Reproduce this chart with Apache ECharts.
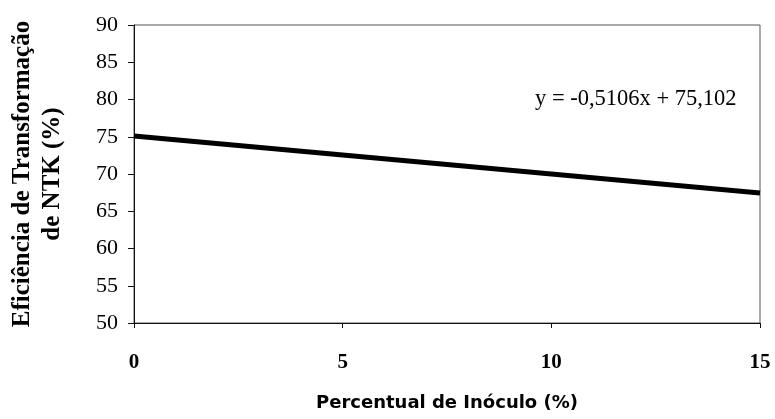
<!DOCTYPE html>
<html>
<head>
<meta charset="utf-8">
<script src="https://cdn.jsdelivr.net/npm/echarts@6/dist/echarts.min.js"></script>
<style>
  html, body { margin: 0; padding: 0; background: #fff; }
  #chart { width: 775px; height: 419px; }
</style>
</head>
<body>
<div id="chart"></div>
<script>
// Trend line of NTK transformation efficiency vs. inoculum share
const inoculoPct = [0, 15];
const eficiencia = [75.10, 67.44];
const equationText = 'y = -0,5106x + 75,102';
const xTicks = { min: 0, max: 15, step: 5 };
const yTicks = { min: 50, max: 90, step: 5 };

const chart = echarts.init(document.getElementById('chart'));

chart.setOption({
  backgroundColor: '#fff',
  animation: false,
  grid: {
    left: 132, right: 15, top: 25, bottom: 96,
    show: true, borderColor: '#555', borderWidth: 1
  },
  xAxis: {
    type: 'value',
    min: xTicks.min, max: xTicks.max, interval: xTicks.step,
    name: 'Percentual de Inóculo (%)',
    nameLocation: 'middle',
    nameGap: 71,
    nameTextStyle: {
      fontFamily: 'DejaVu Sans', fontWeight: 'bold',
      fontSize: 18, color: '#000'
    },
    axisLine: { lineStyle: { color: '#111', width: 1 } },
    axisTick: { show: true, length: 5, lineStyle: { color: '#111' } },
    axisLabel: {
      margin: 29,
      fontFamily: 'Liberation Serif', fontWeight: 'bold',
      fontSize: 21, color: '#000'
    },
    splitLine: { show: false }
  },
  yAxis: {
    type: 'value',
    min: yTicks.min, max: yTicks.max, interval: yTicks.step,
    name: 'Eficiência de Transformação\nde NTK (%)',
    nameLocation: 'middle',
    nameRotate: 90,
    nameGap: 66,
    nameTextStyle: {
      fontFamily: 'Liberation Serif', fontWeight: 'bold',
      fontSize: 25, color: '#000', lineHeight: 30
    },
    axisLine: { show: true, lineStyle: { color: '#111', width: 1 } },
    axisTick: { show: true, length: 6, lineStyle: { color: '#111' } },
    axisLabel: {
      margin: 16,
      fontFamily: 'Liberation Serif', fontSize: 22, color: '#000'
    },
    splitLine: { show: false }
  },
  graphic: [{
    type: 'text',
    left: 535, top: 88,
    style: {
      text: equationText,
      font: '22.5px "Liberation Serif"',
      fill: '#000'
    }
  }],
  series: [{
    type: 'line',
    data: inoculoPct.map((x, i) => [x, eficiencia[i]]),
    symbol: 'none',
    lineStyle: { color: '#000', width: 5 }
  }]
});
</script>
</body>
</html>
